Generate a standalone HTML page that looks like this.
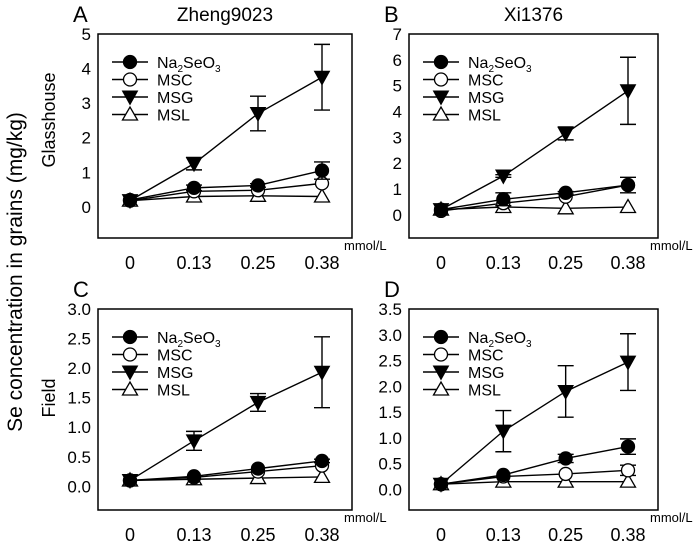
<!DOCTYPE html>
<html><head><meta charset="utf-8"><style>
html,body{margin:0;padding:0;background:#fff;}
svg{display:block;font-family:"Liberation Sans",Arial,sans-serif;}
</style></head><body>
<svg id="fig" width="700" height="544" viewBox="0 0 700 544">
<text x="22" y="272" font-size="21" text-anchor="middle" transform="rotate(-90 22 272)">Se concentration in grains (mg/kg)</text>
<text x="55" y="120" font-size="18" text-anchor="middle" transform="rotate(-90 55 120)">Glasshouse</text>
<text x="55" y="398" font-size="18" text-anchor="middle" transform="rotate(-90 55 398)">Field</text>
</svg>
<script>
const categories=["0","0.13","0.25","0.38"];
const panelLabels=["A","B","C","D"];
const panelTitles=["Zheng9023","Xi1376","",""];
const yMaxs=[5,7,3,3.5];
const yMins=[-0.9,-0.9,-0.4,-0.4];
const yStep=[1,1,0.5,0.5];
const seriesNames=["Na2SeO3","MSC","MSG","MSL"];
const naA=[0.2,0.55,0.62,1.05], naAe=[0,0.08,0.05,0.25];
const mscA=[0.18,0.45,0.48,0.68], mscAe=[0,0,0,0];
const msgA=[0.18,1.25,2.7,3.75], msgAe=[0,0.18,0.5,0.95];
const mslA=[0.18,0.3,0.32,0.3], mslAe=[0,0,0,0];
const naB=[0.2,0.6,0.85,1.15], naBe=[0,0.25,0.05,0.3];
const mscB=[0.15,0.45,0.7,1.15], mscBe=[0,0,0,0];
const msgB=[0.2,1.5,3.15,4.8], msgBe=[0,0.05,0.25,1.3];
const mslB=[0.2,0.3,0.25,0.3], mslBe=[0,0,0,0];
const naC=[0.1,0.17,0.3,0.43], naCe=[0,0,0,0.03];
const mscC=[0.1,0.15,0.25,0.35], mscCe=[0,0,0,0];
const msgC=[0.1,0.77,1.42,1.93], msgCe=[0,0.16,0.15,0.6];
const mslC=[0.1,0.12,0.14,0.16], mslCe=[0,0,0,0];
const naD=[0.1,0.28,0.6,0.83], naDe=[0,0,0.08,0.15];
const mscD=[0.1,0.25,0.3,0.37], mscDe=[0,0,0,0.1];
const msgD=[0.1,1.13,1.9,2.47], msgDe=[0,0.4,0.5,0.55];
const mslD=[0.1,0.15,0.15,0.15], mslDe=[0,0,0,0];
const data=[[naA,mscA,msgA,mslA],[naB,mscB,msgB,mslB],[naC,mscC,msgC,mslC],[naD,mscD,msgD,mslD]];
const errs=[[naAe,mscAe,msgAe,mslAe],[naBe,mscBe,msgBe,mslBe],[naCe,mscCe,msgCe,mslCe],[naDe,mscDe,msgDe,mslDe]];

const NS="http://www.w3.org/2000/svg";
const svg=document.getElementById("fig");
function mk(tag,attrs,parent){const e=document.createElementNS(NS,tag);for(const k in attrs)e.setAttribute(k,attrs[k]);(parent||svg).appendChild(e);return e;}
const boxes=[{l:98,r:352,t:34,b:238},{l:409,r:658,t:34,b:238},{l:98,r:352,t:309,b:510},{l:409,r:658,t:309,b:510}];
function marker(g,kind,x,y){
  let e;
  if(kind==0) e=mk("circle",{cx:x,cy:y,r:6.5,fill:"#000",stroke:"#000","stroke-width":1.3},g);
  else if(kind==1) e=mk("circle",{cx:x,cy:y,r:6.5,fill:"#fff",stroke:"#000","stroke-width":1.3},g);
  else if(kind==2) e=mk("polygon",{points:`${x-7.5},${y-6} ${x+7.5},${y-6} ${x},${y+7.5}`,fill:"#000",stroke:"#000","stroke-width":1},g);
  else e=mk("polygon",{points:`${x-7.5},${y+5.5} ${x+7.5},${y+5.5} ${x},${y-7.5}`,fill:"#fff",stroke:"#000","stroke-width":1.3},g);
  return e;
}
boxes.forEach((b,p)=>{
  const g=mk("g",{});
  
  
  const plotL=b.l+32, plotR=b.r-30;
  const xs=i=>plotL+(plotR-plotL)*i/(categories.length-1);
  const ys=v=>b.t+(yMaxs[p]-v)/(yMaxs[p]-yMins[p])*(b.b-b.t);
  const frame=mk("rect",{x:b.l,y:b.t,width:b.r-b.l,height:b.b-b.t,fill:"none",stroke:"#000","stroke-width":1.5},g);
  
  
  const pl=mk("text",{x:b.l-25,y:b.t-12,"font-size":22},g);pl.textContent=panelLabels[p];
  
  
  if(panelTitles[p]){const t=mk("text",{x:(b.l+b.r)/2,y:b.t-13,"font-size":19,"text-anchor":"middle"},g);t.textContent=panelTitles[p];
    
    }
  for(let v=0;v<=yMaxs[p]+1e-9;v+=yStep[p]){
    const t=mk("text",{x:b.l-7,y:ys(v)+6,"font-size":17,"text-anchor":"end"},g);
    t.textContent=yStep[p]<1?v.toFixed(1):String(Math.round(v));
    
    
  }
  categories.forEach((c,i)=>{
    const t=mk("text",{x:xs(i),y:b.b+31,"font-size":18,"text-anchor":"middle"},g);t.textContent=c;
    
    
  });
  const u=mk("text",{x:b.r-8,y:b.b+12,"font-size":13},g);u.textContent="mmol/L";
  
  
  [3,1,0,2].forEach(s=>{
    const vals=data[p][s], er=errs[p][s];
    const sg=mk("g",{},g);
    
    
    const line=mk("polyline",{points:vals.map((v,i)=>xs(i)+","+ys(v)).join(" "),fill:"none",stroke:"#000","stroke-width":1.4},sg);
    
    
    vals.forEach((v,i)=>{
      if(er[i]>0){
        const x=xs(i),a=ys(v+er[i]),c=ys(v-er[i]);
        const eb=mk("path",{d:`M${x},${a}V${c}M${x-8},${a}H${x+8}M${x-8},${c}H${x+8}`,stroke:"#000","stroke-width":1.4,fill:"none"},sg);
        
        
      }
      const m=marker(sg,s,xs(i),ys(v));
      
      
    });
  });
  const lg=mk("g",{},g);
  
  
  seriesNames.forEach((n,s)=>{
    const y=b.t+28+s*17.5;
    mk("line",{x1:b.l+14,x2:b.l+50,y1:y,y2:y,stroke:"#000","stroke-width":1.4},lg);
    const m=marker(lg,s,b.l+32,y);
    
    
    const t=mk("text",{x:b.l+59,y:y+6,"font-size":16},lg);
    if(s==0){t.innerHTML='Na<tspan font-size="10" dy="4">2</tspan><tspan dy="-4">SeO</tspan><tspan font-size="10" dy="4">3</tspan>';}
    else t.textContent=n;
    
    
  });
});
</script>
</body></html>
